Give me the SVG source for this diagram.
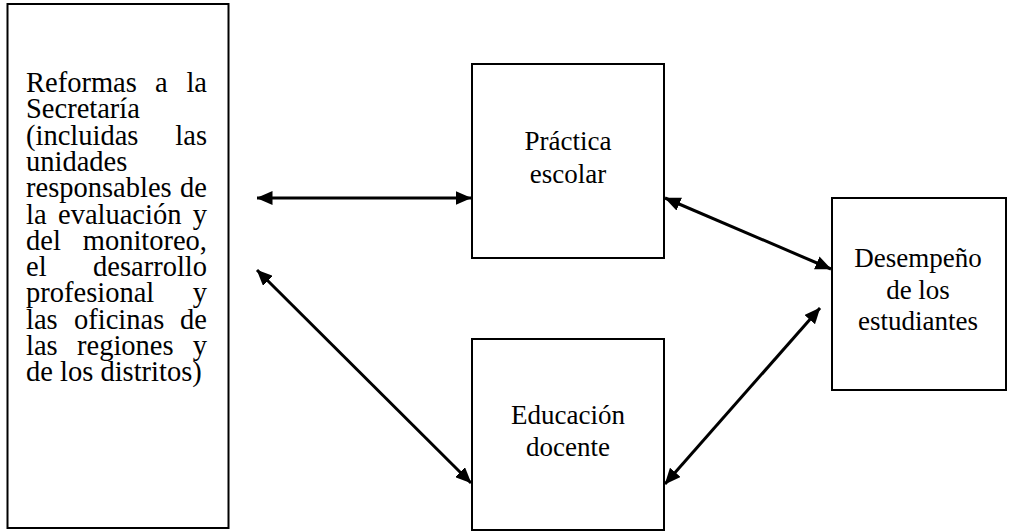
<svg xmlns="http://www.w3.org/2000/svg" width="1009" height="532" viewBox="0 0 1009 532">
<style>
.box{fill:#fff;stroke:#000;stroke-width:2}
text{font-family:"Liberation Serif","Times New Roman",serif;font-size:27px;fill:#000}
.l text{font-size:28.5px}
.c{text-anchor:middle}
.e{text-anchor:end}
.arr{stroke:#000;stroke-width:3;fill:none;marker-start:url(#ah);marker-end:url(#ah)}
</style>
<defs>
<marker id="ah" viewBox="0 0 16 14" refX="15.5" refY="7" markerWidth="16" markerHeight="14" markerUnits="userSpaceOnUse" orient="auto-start-reverse">
<path d="M0,0 L16,7 L0,14 z" fill="#000"/>
</marker>
</defs>
<rect width="1009" height="532" fill="#fff"/>
<g id="reformas" class="l">
<rect class="box" x="7.5" y="4" width="221" height="524"/>
<text x="26" y="92">Reformas</text><text x="155" y="92">a</text><text class="e" x="207" y="92">la</text>
<text x="26" y="118.3">Secretaría</text>
<text x="26" y="144.6">(incluidas</text><text class="e" x="207" y="144.6">las</text>
<text x="26" y="170.9">unidades</text>
<text x="26" y="197.2">responsables</text><text class="e" x="207" y="197.2">de</text>
<text x="26" y="223.5">la</text><text x="58" y="223.5">evaluación</text><text class="e" x="207" y="223.5">y</text>
<text x="26" y="249.8">del</text><text class="e" x="207" y="249.8">monitoreo,</text>
<text x="26" y="276.1">el</text><text class="e" x="207" y="276.1">desarrollo</text>
<text x="26" y="302.4">profesional</text><text class="e" x="207" y="302.4">y</text>
<text x="26" y="328.7">las</text><text x="74" y="328.7">oficinas</text><text class="e" x="207" y="328.7">de</text>
<text x="26" y="355">las</text><text x="77" y="355">regiones</text><text class="e" x="207" y="355">y</text>
<text x="26" y="381.3">de los distritos)</text>
</g>
<g id="practica">
<rect class="box" x="472" y="64" width="192" height="194"/>
<text class="c" x="568" y="150">Práctica</text>
<text class="c" x="568" y="183">escolar</text>
</g>
<g id="educacion">
<rect class="box" x="472" y="339" width="192" height="191"/>
<text class="c" x="568" y="424">Educación</text>
<text class="c" x="568" y="456">docente</text>
</g>
<g id="desempeno">
<rect class="box" x="832" y="198" width="174" height="192"/>
<text class="c" x="918" y="267">Desempeño</text>
<text class="c" x="918" y="298.5">de los</text>
<text class="c" x="918" y="330">estudiantes</text>
</g>
<g id="connectors">
<line class="arr" x1="257" y1="198" x2="471" y2="198"/>
<line class="arr" x1="257" y1="270" x2="471" y2="483"/>
<line class="arr" x1="665" y1="198" x2="831" y2="269"/>
<line class="arr" x1="665" y1="484" x2="820" y2="308"/>
</g>
</svg>
